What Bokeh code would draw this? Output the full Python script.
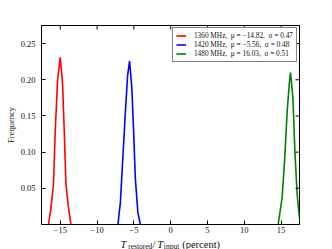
from bokeh.plotting import figure
from bokeh.layouts import column
from bokeh.models import (Range1d, FixedTicker, Legend, LegendItem, NumeralTickFormatter)
from bokeh.core.properties import value
from bokeh.embed import file_html
from bokeh.resources import INLINE

# ---- data ----
red_x = [-16.60, -16.29, -15.92, -15.69, -15.37, -15.00, -14.69, -14.46, -14.24, -13.92, -13.56]
red_y = [0.000, 0.021, 0.056, 0.127, 0.199, 0.231, 0.194, 0.130, 0.058, 0.026, 0.000]
blue_x = [-7.17, -6.84, -6.53, -6.16, -5.85, -5.58, -5.27, -5.03, -4.80, -4.45, -4.12]
blue_y = [0.000, 0.030, 0.086, 0.155, 0.206, 0.226, 0.187, 0.127, 0.063, 0.016, 0.000]
green_x = [14.60, 15.14, 15.47, 15.83, 16.15, 16.28, 16.60, 16.87, 17.18, 17.50, 17.80]
green_y = [0.000, 0.037, 0.088, 0.157, 0.199, 0.210, 0.176, 0.102, 0.042, 0.009, 0.000]

series_labels = ["1360 MHz,  μ = −14.82,  σ = 0.47",
                 "1420 MHz,  μ = −5.56,  σ = 0.48",
                 "1480 MHz,  μ = 16.03,  σ = 0.51"]
series_colors = ["#ff0000", "#0000ff", "#008000"]

x_ticks = [-15, -10, -5, 0, 5, 10, 15]
x_tick_labels = ["−15", "−10", "−5", "0", "5", "10", "15"]
y_ticks = [0.05, 0.10, 0.15, 0.20, 0.25]
y_label = "Frequency"
x_label_parts = ["T", "restored", "/", "T", "input", "(percent)"]

FONT = "Liberation Serif"
TXT = "#111111"

X0, X1 = -17.55, 17.5
Y0, Y1 = 0.0, 0.275
W, H_MAIN, H_LAB = 332, 237, 12
BL, BR, BT, BB = 41, 33, 25, 13

p = figure(width=W, height=H_MAIN, output_backend="svg", toolbar_location=None,
           x_range=Range1d(X0, X1), y_range=Range1d(Y0, Y1),
           min_border_left=BL, min_border_right=BR, min_border_top=BT, min_border_bottom=BB)
p.xgrid.visible = False
p.ygrid.visible = False
p.outline_line_color = "black"
p.outline_line_width = 1

renderers = []
for xs, ys, c in [(red_x, red_y, series_colors[0]), (blue_x, blue_y, series_colors[1]),
                  (green_x, green_y, series_colors[2])]:
    renderers.append(p.line(xs, ys, line_color=c, line_width=1.6))

for ax, ticks in [(p.xaxis[0], x_ticks), (p.yaxis[0], y_ticks)]:
    ax.ticker = FixedTicker(ticks=ticks)
    ax.major_tick_in = 4
    ax.major_tick_out = 0
    ax.minor_tick_line_color = None
    ax.axis_line_color = "black"
    ax.major_tick_line_color = "black"
    ax.major_label_text_font = FONT
    ax.major_label_text_font_size = "8.5px"
    ax.major_label_text_color = TXT

xa = p.xaxis[0]
xa.major_label_overrides = dict(zip(x_ticks, x_tick_labels))
xa.major_label_standoff = 2

ya = p.yaxis[0]
ya.formatter = NumeralTickFormatter(format="0.00")
ya.major_label_standoff = 6
ya.axis_label = y_label
ya.axis_label_text_font = FONT
ya.axis_label_text_font_style = "normal"
ya.axis_label_text_font_size = "8.5px"
ya.axis_label_standoff = 2
ya.axis_label_text_color = TXT

# inward ticks on the top and right edges, derived from the tick lists
frame_w = W - BL - BR
frame_h = H_MAIN - BT - BB
tick_dy = 4 * (Y1 - Y0) / frame_h
tick_dx = 4 * (X1 - X0) / frame_w
p.segment(x0=x_ticks, y0=[Y1] * len(x_ticks), x1=x_ticks, y1=[Y1 - tick_dy] * len(x_ticks),
          line_color="black", line_width=1)
p.segment(x0=[X1] * len(y_ticks), y0=y_ticks, x1=[X1 - tick_dx] * len(y_ticks), y1=y_ticks,
          line_color="black", line_width=1)

legend = Legend(items=[LegendItem(label=l, renderers=[r]) for l, r in zip(series_labels, renderers)],
                location="top_right", margin=2, padding=3, spacing=0,
                glyph_width=10, glyph_height=9, label_height=9, label_standoff=8,
                label_text_font=FONT, label_text_font_size="7.3px", label_text_color=TXT,
                border_line_color="black", border_line_width=1,
                background_fill_alpha=1.0)
p.add_layout(legend)

# x-axis label row: T_restored / T_input (percent), placed on the same x scale
q = figure(width=W, height=H_LAB, output_backend="svg", toolbar_location=None,
           x_range=p.x_range, y_range=Range1d(H_LAB, 0),
           min_border_left=BL, min_border_right=BR, min_border_top=0, min_border_bottom=0)
q.axis.visible = False
q.grid.visible = False
q.outline_line_color = None


def xd(px):
    # horizontal pixel in the window -> x data coordinate
    return X0 + (px - BL) * (X1 - X0) / frame_w


base = 6.5
sub = 8.5
big = [(x_label_parts[0], 120.0, "italic"), (x_label_parts[2], 152.0, "normal"),
       (x_label_parts[3], 156.7, "italic"), (x_label_parts[5], 181.7, "normal")]
for t, px, st in big:
    q.text(x=[xd(px)], y=[base], text=[t], text_font=value(FONT), text_font_size=value("10.5px"),
           text_font_style=st, text_align="left", text_baseline="alphabetic", text_color=TXT)
small = [(x_label_parts[1], 127.7), (x_label_parts[4], 163.3)]
for t, px in small:
    q.text(x=[xd(px)], y=[sub], text=[t], text_font=value(FONT), text_font_size=value("7.5px"),
           text_align="left", text_baseline="alphabetic", text_color=TXT)

layout = column(p, q, spacing=0)
open("out.html", "w").write(file_html(layout, INLINE))
